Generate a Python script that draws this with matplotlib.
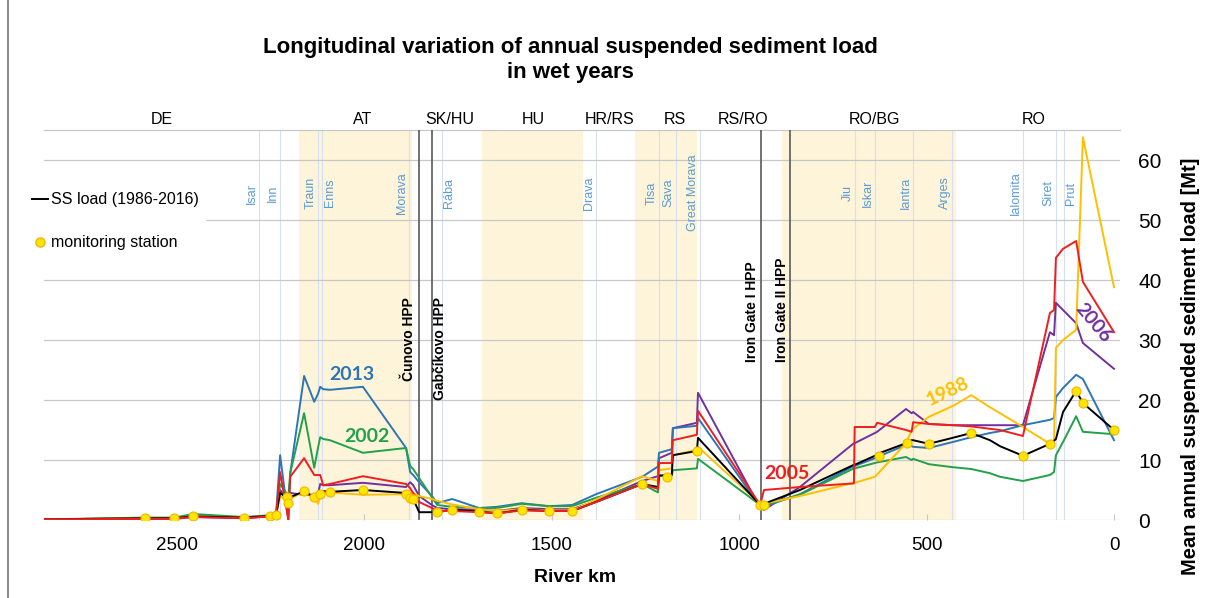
import matplotlib
matplotlib.use("Agg")
import matplotlib.pyplot as plt
from matplotlib.lines import Line2D

plt.rcParams['font.family'] = ['Liberation Sans', 'DejaVu Sans']

# river km nodes shared by all series
river_km = [2855, 2585, 2508, 2457, 2321, 2252, 2236, 2225, 2203, 2198,
            2161, 2134, 2124, 2118, 2110, 2092, 2004, 1889, 1878, 1870,
            1854, 1820, 1806, 1766, 1694, 1646, 1580, 1507, 1446, 1382,
            1259, 1217, 1214, 1180, 1177, 1113, 1110, 944, 934, 838,
            694, 692, 638, 632, 555, 540, 536, 494, 430, 381,
            331, 304, 243, 171, 160, 155, 136, 101, 83, 0]

ss_load = [0.1, 0.3, 0.3, 0.6, 0.4, 0.7, 0.8, 4.5, 3.5, 3.8,
           4.8, 3.8, 4.0, 4.5, 4.8, 4.7, 5.0, 4.5, 3.7, 3.5,
           1.3, 1.3, 1.3, 1.7, 1.4, 1.1, 1.7, 1.5, 1.5, 3.0,
           6.0, 5.5, 7.4, 7.5, 10.8, 11.5, 13.7, 2.5, 2.7, 5.0,
           9.2, 9.2, 10.7, 11.0, 12.8, 13.3, 13.3, 12.7, 13.7, 14.5,
           13.3, 12.3, 10.7, 12.7, 13.2, 13.5, 18.0, 21.5, 19.5, 15.0]

load_2013 = [0.1, 0.3, 0.3, 0.6, 0.4, 0.6, 0.8, 10.8, 0.0, 7.8,
             24.0, 19.7, 21.0, 22.2, 21.8, 21.7, 22.2, 12.0, 8.0, 7.5,
             6.3, 4.0, 2.8, 3.5, 2.0, 2.2, 2.8, 2.3, 2.5, 4.3,
             7.2, 8.9, 11.2, 11.8, 15.3, 15.7, 17.0, 2.2, 2.2, 4.3,
             9.0, 9.0, 10.3, 10.5, 12.5, 12.3, 12.2, 12.0, 13.0, 13.8,
             14.5, 14.8, 15.8, 16.7, 17.0, 20.5, 22.0, 24.2, 23.5, 13.3]

load_2002 = [0.1, 0.4, 0.4, 1.0, 0.5, 0.8, 0.9, 6.0, 4.0, 7.8,
             17.8, 8.7, 12.0, 13.8, 13.5, 13.3, 11.2, 12.0, 9.0, 8.5,
             7.0, 3.8, 2.5, 2.2, 2.0, 2.0, 2.7, 2.3, 2.3, 3.7,
             6.0, 4.6, 7.4, 7.4, 8.3, 8.6, 10.2, 2.5, 2.5, 4.2,
             8.6, 8.6, 9.5, 9.6, 10.5, 10.0, 10.2, 9.3, 8.8, 8.5,
             7.8, 7.2, 6.5, 7.5, 8.0, 10.8, 13.0, 17.3, 14.7, 14.3]

load_2005 = [0.1, 0.2, 0.2, 0.5, 0.3, 0.6, 0.7, 8.0, 0.0, 7.2,
             10.3, 7.5, 7.5, 7.5, 5.8, 6.0, 7.3, 6.0, 5.3, 4.5,
             3.0, 2.0, 1.5, 1.5, 1.3, 1.1, 1.6, 1.5, 1.5, 3.0,
             6.0, 5.2, 9.5, 9.5, 13.3, 14.2, 18.2, 2.5, 5.0, 5.5,
             6.1, 15.5, 15.5, 16.2, 15.0, 14.7, 16.3, 16.0, 15.8, 15.6,
             15.2, 15.0, 14.0, 34.5, 35.0, 43.7, 45.2, 46.5, 39.7, 31.3]

load_2006 = [0.1, 0.2, 0.2, 0.5, 0.3, 0.6, 0.7, 5.0, 3.5, 4.5,
             4.2, 4.2, 4.3, 6.0, 5.8, 5.8, 6.2, 5.5, 6.3, 5.8,
             4.0, 2.5, 2.0, 1.8, 1.7, 1.5, 2.0, 1.8, 1.8, 3.2,
             6.5, 7.3, 10.3, 11.2, 15.3, 16.2, 21.2, 2.0, 1.7, 5.5,
             12.8, 12.8, 14.5, 14.7, 18.5, 17.8, 18.0, 16.0, 15.8, 15.8,
             15.8, 15.8, 15.8, 31.3, 30.8, 36.2, 35.0, 32.8, 29.5, 25.2]

load_1988 = [0.1, 0.3, 0.3, 0.6, 0.4, 0.7, 0.8, 4.0, 3.0, 3.5,
             4.8, 3.8, 2.7, 4.0, 4.3, 4.6, 4.2, 4.3, 4.5, 4.5,
             4.0, 3.5, 3.2, 2.6, 1.8, 1.5, 1.8, 1.6, 1.6, 3.4,
             7.3, 6.5, 8.3, 8.6, 10.8, 11.7, 12.2, 2.7, 2.7, 4.0,
             6.2, 6.2, 7.2, 7.6, 12.8, 15.0, 15.2, 17.2, 19.0, 20.8,
             18.8, 17.8, 15.5, 12.7, 13.2, 28.7, 30.0, 31.7, 63.8, 38.8]

station_km = [2585, 2508, 2457, 2321, 2252, 2236, 2207, 2203, 2161, 2134,
              2118, 2092, 2004, 1889, 1878, 1870, 1806, 1766, 1694, 1646,
              1580, 1507, 1446, 1259, 1193, 1113, 944, 934, 627, 552,
              494, 381, 243, 171, 101, 83, 0]
station_load = [0.3, 0.3, 0.6, 0.4, 0.7, 0.8, 3.8, 2.8, 4.8, 3.8,
                4.3, 4.7, 5.0, 4.3, 3.7, 3.5, 1.3, 1.7, 1.4, 1.1,
                1.7, 1.5, 1.5, 6.0, 7.2, 11.5, 2.5, 2.5, 10.7, 12.8,
                12.7, 14.5, 10.7, 12.7, 21.5, 19.5, 15.0]

countries = ['DE', 'AT', 'SK/HU', 'HU', 'HR/RS', 'RS', 'RS/RO', 'RO/BG', 'RO']
country_km = [2540, 2004, 1772, 1550, 1345, 1171, 990, 640, 213]

tributaries = ['Isar', 'Inn', 'Traun', 'Enns', 'Morava', 'Rába', 'Drava', 'Tisa',
               'Sava', 'Great Morava', 'Jiu', 'Iskar', 'Iantra', 'Arges',
               'Ialomita', 'Siret', 'Prut']
tributary_km = [2282, 2225, 2125, 2112, 1880, 1794, 1382, 1214, 1170, 1105,
                692, 637, 537, 432, 244, 155, 134]
label_side = [-1, -1, -1, 1, -1, 1, -1, -1, -1, -1, -1, -1, -1, -1, -1, -1, 1]

dams = ['Čunovo HPP', 'Gabčíkovo HPP', 'Iron Gate I HPP', 'Iron Gate II HPP']
dam_km = [1854, 1820, 942, 864]

shaded = [(2174, 1872), (1686, 1417), (1278, 1113), (886, 422)]

fig = plt.figure(figsize=(12.11, 5.98), dpi=100)
ax = fig.add_axes([44 / 1211, 1 - 520 / 598, (1120 - 44) / 1211, 390 / 598])
ax.set_xlim(2855, -16)
ax.set_ylim(0, 65)

for a, b in shaded:
    ax.axvspan(a, b, color='#FDF4DA', lw=0, zorder=0)
for k in tributary_km:
    ax.axvline(k, color='#D6E0F0', lw=0.8, zorder=0.5)
for y in range(0, 70, 10):
    ax.axhline(y, color='#C8C8C8', lw=0.9, zorder=0.6)
ax.axhline(65, color='#C8C8C8', lw=0.9, zorder=0.6, clip_on=False)
for k in dam_km:
    ax.axvline(k, color='#5A5A5A', lw=1.2, zorder=1.5)

series = [(load_2006, '#7030A0'), (load_2013, '#2E75B6'), (load_2002, '#22A04B'),
          (load_1988, '#FFC000'), (ss_load, 'black'), (load_2005, '#F01E1E')]
for vals, col in series:
    ax.plot(river_km, vals, color=col, lw=1.4, zorder=3)
ax.plot(station_km, station_load, ls='none', marker='o', ms=6.5,
        mfc='#FFE600', mec='#F2B400', mew=0.8, zorder=4)

# tributary names
for name, k, s in zip(tributaries, tributary_km, label_side):
    ax.text(k - s * 19, 54.5, name, rotation=90, ha='center', va='center',
            fontsize=9, color='#5B9BD5')

# dams
dam_style = dict(rotation=90, ha='center', fontsize=10, fontweight='bold')
ax.text(dam_km[0] + 27, 37.2, dams[0], va='top', **dam_style)
ax.text(dam_km[1] - 22, 37.2, dams[1], va='top', **dam_style)
ax.text(dam_km[2] + 24, 26.3, dams[2], va='bottom', **dam_style)
ax.text(dam_km[3] + 22, 26.3, dams[3], va='bottom', **dam_style)

# country labels
for name, k in zip(countries, country_km):
    ax.text(k, 66.8, name, ha='center', va='center', fontsize=11.5, clip_on=False)

# year labels
yr = dict(fontsize=14, fontweight='bold', family='Lato', ha='center', va='center')
ax.text(2033, 24.3, '2013', color='#2E75B6', **yr)
ax.text(1993, 14.0, '2002', color='#22A04B', **yr)
ax.text(872, 7.8, '2005', color='#F01E1E', **yr)
ax.text(443, 21.4, '1988', color='#FFC000', rotation=25, **yr)
ax.text(56, 32.8, '2006', color='#7030A0', rotation=-50, **yr)

for sp in ax.spines.values():
    sp.set_visible(False)
ax.set_xticks([2500, 2000, 1500, 1000, 500, 0])
ax.set_yticks(range(0, 70, 10))
ax.yaxis.tick_right()
ax.tick_params(axis='x', length=4, direction='in', color='#C8C8C8', labelsize=13.5, pad=12)
ax.tick_params(axis='y', length=0, labelsize=15, pad=13)

fig.text(575 / 1211, 1 - 578 / 598, 'River km', ha='center', va='center',
         fontsize=14, fontweight='bold')
fig.text(1190 / 1211, 1 - 366 / 598, 'Mean annual suspended sediment load [Mt]',
         rotation=90, ha='center', va='center', fontsize=14.5, fontweight='bold')
fig.text(570 / 1211, 1 - 60 / 598,
         'Longitudinal variation of annual suspended sediment load\nin wet years',
         ha='center', va='center', fontsize=16, fontweight='bold', linespacing=1.25)

handles = [Line2D([], [], color='black', lw=1.4),
           Line2D([], [], ls='none', marker='o', ms=6.5, mfc='#FFE600', mec='#F2B400')]
leg = fig.legend(handles, ['SS load (1986-2016)', 'monitoring station'],
                 loc='upper left', bbox_to_anchor=(18 / 1211, 1 - 178 / 598),
                 fontsize=11.5, handlelength=1.0, handletextpad=0.15,
                 labelspacing=1.75, borderpad=0.4, frameon=True, fancybox=False)
leg.get_frame().set_facecolor('white')
leg.get_frame().set_edgecolor('white')
leg.get_frame().set_alpha(1)

fig.add_artist(Line2D([8 / 1211, 8 / 1211], [0, 1], transform=fig.transFigure,
                      color='#8C8C8C', lw=1.5))

fig.savefig('out.png', dpi=100)
